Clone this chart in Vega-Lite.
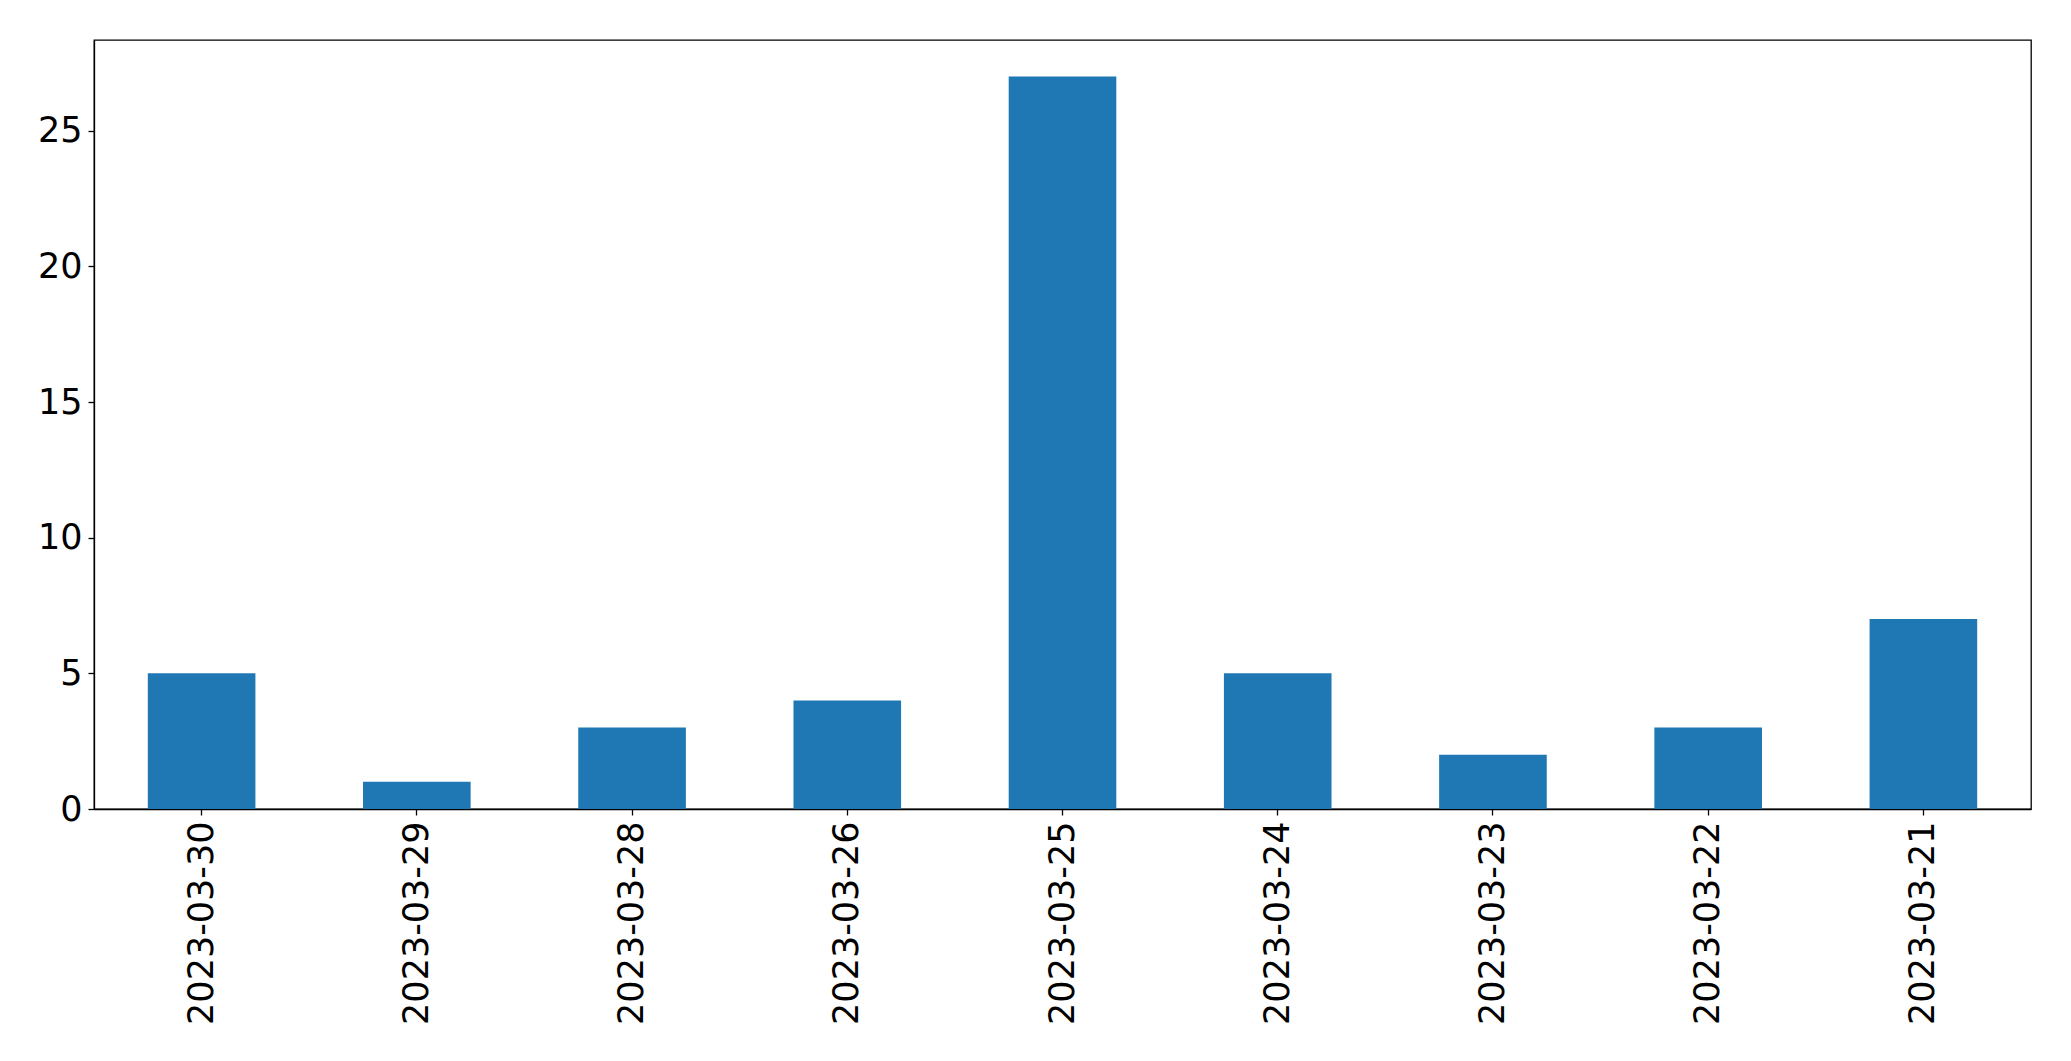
{
  "$schema": "https://vega.github.io/schema/vega-lite/v6.json",
  "autosize": {"type": "none"},
  "width": 1937,
  "height": 769,
  "padding": {"left": 94, "top": 40, "right": 40, "bottom": 252},
  "background": "white",
  "config": {
    "view": {"stroke": "#000000", "strokeWidth": 1.3},
    "axis": {
      "labelFont": "DejaVu Sans",
      "labelFontSize": 35,
      "labelColor": "#000000",
      "labelLimit": 0,
      "domainColor": "#000000",
      "domainWidth": 1.3,
      "tickColor": "#000000",
      "tickWidth": 1.3,
      "tickSize": 6,
      "grid": false,
      "title": null
    }
  },
  "data": {
    "values": [
      {"date": "2023-03-30", "count": 5},
      {"date": "2023-03-29", "count": 1},
      {"date": "2023-03-28", "count": 3},
      {"date": "2023-03-26", "count": 4},
      {"date": "2023-03-25", "count": 27},
      {"date": "2023-03-24", "count": 5},
      {"date": "2023-03-23", "count": 2},
      {"date": "2023-03-22", "count": 3},
      {"date": "2023-03-21", "count": 7}
    ]
  },
  "mark": {"type": "bar", "color": "#1f77b4"},
  "encoding": {
    "x": {
      "field": "date",
      "type": "nominal",
      "sort": null,
      "scale": {"paddingInner": 0.5, "paddingOuter": 0.25},
      "axis": {"labelAngle": 270, "labelPadding": 6, "labelAlign": "right", "labelBaseline": "middle"}
    },
    "y": {
      "field": "count",
      "type": "quantitative",
      "scale": {"domain": [0, 28.35], "nice": false},
      "axis": {"values": [0, 5, 10, 15, 20, 25], "labelPadding": 6}
    }
  }
}
